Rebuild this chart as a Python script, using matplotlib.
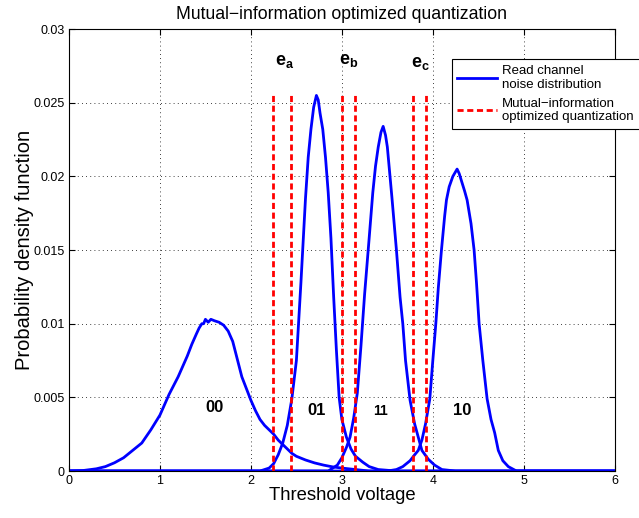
import matplotlib
matplotlib.use("Agg")
import matplotlib.pyplot as plt
from matplotlib.ticker import FixedLocator, FormatStrFormatter

plt.rcParams["font.family"] = ["Liberation Sans", "DejaVu Sans"]
plt.rcParams["mathtext.fontset"] = "custom"
plt.rcParams["mathtext.bf"] = "Liberation Sans:bold"
plt.rcParams["mathtext.rm"] = "Liberation Sans"

# distributions (threshold voltage, pdf value)
state00_x = [0.0, 0.15, 0.3, 0.4, 0.5, 0.6, 0.7, 0.8, 0.9, 1.0, 1.05, 1.1, 1.15, 1.2, 1.25,
             1.3, 1.35, 1.4, 1.43, 1.46, 1.48, 1.5, 1.53, 1.56, 1.6, 1.65, 1.7, 1.75, 1.8,
             1.85, 1.9, 1.95, 2.0, 2.05, 2.1, 2.15, 2.2, 2.25, 2.3, 2.35, 2.4, 2.45, 2.5,
             2.6, 2.7, 2.8, 2.9, 3.0, 3.15, 3.3, 6.0]
state00_y = [0.0, 0.00003, 0.00015, 0.0003, 0.00056, 0.0009, 0.0014, 0.0019, 0.0028, 0.0038,
             0.0045, 0.0052, 0.0058, 0.0064, 0.0071, 0.0078, 0.0086, 0.0093, 0.0097, 0.0100,
             0.0100, 0.0103, 0.0101, 0.0103, 0.0102, 0.0101, 0.0099, 0.0095, 0.0088, 0.0076,
             0.0064, 0.0056, 0.0048, 0.0041, 0.0035, 0.0031, 0.0028, 0.0025, 0.0021, 0.0018,
             0.0015, 0.0012, 0.0010, 0.00075, 0.00055, 0.0004, 0.00028, 0.0002, 0.0001, 0.0,
             0.0]

state01_x = [0.0, 2.1, 2.2, 2.25, 2.3, 2.35, 2.4, 2.45, 2.5, 2.55, 2.6, 2.63, 2.66, 2.69,
             2.72, 2.74, 2.76, 2.79, 2.82, 2.85, 2.88, 2.91, 2.94, 2.97, 3.0, 3.05, 3.1,
             3.15, 3.23, 3.3, 3.4, 3.6, 6.0]
state01_y = [0.0, 0.0, 0.0002, 0.0005, 0.0011, 0.0019, 0.0031, 0.0049, 0.0075, 0.0128,
             0.0185, 0.0213, 0.0232, 0.0247, 0.0255, 0.0252, 0.0243, 0.0232, 0.0213, 0.0189,
             0.0158, 0.0118, 0.0082, 0.0050, 0.0035, 0.0023, 0.0015, 0.0010, 0.0006, 0.0003,
             0.0001, 0.0, 0.0]

state11_x = [0.0, 2.85, 2.95, 3.0, 3.05, 3.09, 3.13, 3.17, 3.21, 3.25, 3.3, 3.34, 3.37,
             3.4, 3.43, 3.454, 3.48, 3.5, 3.55, 3.6, 3.64, 3.67, 3.7, 3.75, 3.8, 3.84, 3.88,
             3.95, 4.02, 4.1, 4.25, 6.0]
state11_y = [0.0, 0.0, 0.0004, 0.0009, 0.0016, 0.0023, 0.0036, 0.0053, 0.0085, 0.0120,
             0.0158, 0.0189, 0.0207, 0.0220, 0.0230, 0.0234, 0.0228, 0.0220, 0.0186, 0.0150,
             0.0118, 0.0100, 0.0075, 0.0048, 0.0032, 0.0023, 0.0014, 0.0008, 0.0004, 0.0001,
             0.0, 0.0]

state10_x = [0.0, 3.5, 3.6, 3.67, 3.75, 3.8, 3.84, 3.88, 3.92, 3.967, 4.0, 4.033, 4.06,
             4.095, 4.13, 4.15, 4.18, 4.22, 4.267, 4.29, 4.31, 4.35, 4.377, 4.42, 4.454,
             4.48, 4.509, 4.55, 4.597, 4.64, 4.68, 4.72, 4.77, 4.83, 4.92, 6.0]
state10_y = [0.0, 0.0, 0.0001, 0.0003, 0.0007, 0.0011, 0.0014, 0.0021, 0.0032, 0.0049,
             0.0075, 0.0100, 0.0124, 0.0150, 0.0173, 0.0184, 0.0193, 0.0200, 0.0205, 0.0202,
             0.0198, 0.0190, 0.0184, 0.0168, 0.0150, 0.0128, 0.0100, 0.0075, 0.0049, 0.0035,
             0.0026, 0.0014, 0.0007, 0.0003, 0.0, 0.0]

# quantization thresholds (pairs e_a, e_b, e_c)
thresholds = [2.245, 2.446, 3.0, 3.146, 3.78, 3.92]
threshold_top = 0.0257

state_labels = ["00", "01", "11", "10"]
state_label_x = [1.6, 2.72, 3.42, 4.32]
state_label_y = [0.0043, 0.0041, 0.0041, 0.0041]

edge_labels = [r"$\mathbf{e_a}$", r"$\mathbf{e_b}$", r"$\mathbf{e_c}$"]
edge_label_x = [2.37, 3.08, 3.86]
edge_label_y = [0.0278, 0.0279, 0.0277]

fig = plt.figure(figsize=(6.39, 5.18), dpi=100)
ax = fig.add_axes([0.108, 0.0907, 0.854, 0.853])

blue = "#0000ff"
line_blue = None
for xs, ys in [(state00_x, state00_y), (state01_x, state01_y),
               (state11_x, state11_y), (state10_x, state10_y)]:
    (line_blue,) = ax.plot(xs, ys, color=blue, linewidth=2.0)

line_red = None
for t in thresholds:
    (line_red,) = ax.plot([t, t], [0, threshold_top], color="#ff0000", linewidth=2.0,
                          linestyle=(0, (2.2, 1.3)))

for lbl, x, y in zip(state_labels, state_label_x, state_label_y):
    size = 10 if lbl == "11" else 12
    ax.text(x, y, lbl, ha="center", va="center", fontsize=size, fontweight="bold")

for lbl, x, y in zip(edge_labels, edge_label_x, edge_label_y):
    ax.text(x, y, lbl, ha="center", va="center", fontsize=13)

ax.set_xlim(0, 6)
ax.set_ylim(0, 0.03)
ax.xaxis.set_major_locator(FixedLocator([0, 1, 2, 3, 4, 5, 6]))
ax.yaxis.set_major_locator(FixedLocator([0, 0.005, 0.01, 0.015, 0.02, 0.025, 0.03]))
ax.yaxis.set_major_formatter(FormatStrFormatter("%g"))
ax.tick_params(direction="in", labelsize=9, length=4, top=True, right=True, pad=3)
ax.grid(True, linestyle=(0, (1, 4)), color="black", linewidth=0.6)
for sp in ax.spines.values():
    sp.set_linewidth(0.8)

ax.set_title("Mutual\u2212information optimized quantization", fontsize=12.7, pad=7)
ax.set_xlabel("Threshold voltage", fontsize=13.3, labelpad=0)
ax.set_ylabel("Probability density function", fontsize=14.5, labelpad=0)

leg = ax.legend([line_blue, line_red],
                ["Read channel\nnoise distribution", "Mutual\u2212information\noptimized quantization"],
                loc="upper left", bbox_to_anchor=(0.701, 0.932), fontsize=9.5,
                frameon=True, fancybox=False, edgecolor="black", framealpha=1,
                handlelength=3.0, borderpad=0.45, labelspacing=0.5, handletextpad=0.4,
                borderaxespad=0)
leg.get_frame().set_linewidth(0.8)

fig.savefig("out.png", dpi=100)
